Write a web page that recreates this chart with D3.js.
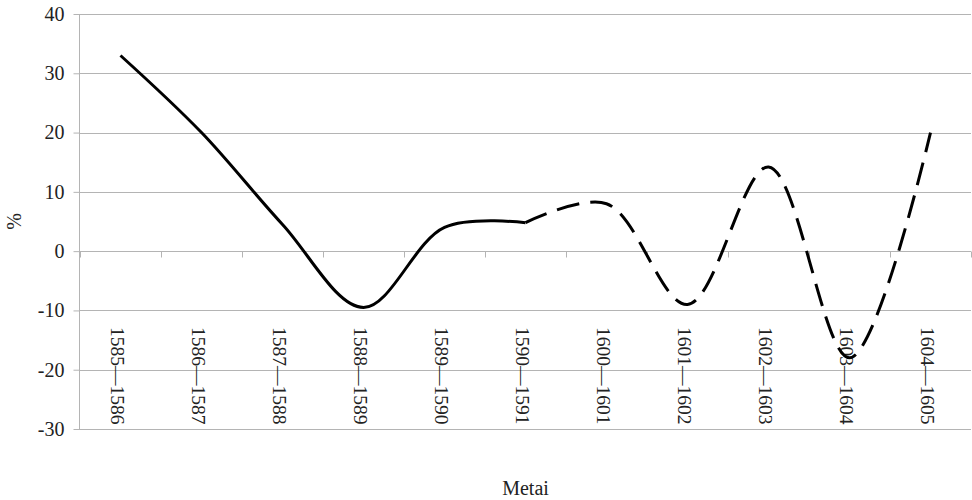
<!DOCTYPE html>
<html>
<head>
<meta charset="utf-8">
<script src="https://cdn.jsdelivr.net/npm/d3@7/dist/d3.min.js"></script>
<style>
  html, body { margin: 0; padding: 0; background: #fff; }
  svg { display: block; }
  text { font-family: "Liberation Serif", "Times New Roman", serif; fill: #222; }
</style>
</head>
<body>
<svg id="chart" width="972" height="500"></svg>
<script>
// ---- data ----
const categories = ["1585—1586","1586—1587","1587—1588","1588—1589","1589—1590","1590—1591",
                    "1600—1601","1601—1602","1602—1603","1603—1604","1604—1605"];
const values = [33, 20, 4.5, -9.5, 4, 4.8, 8, -9, 14.2, -18, 20];
const solidCategories = categories.slice(0, 6);   // solid series
const dashedCategories = categories.slice(5);     // dashed series
const yTicks = [-30, -20, -10, 0, 10, 20, 30, 40];
const yTitle = "%";
const xTitle = "Metai";

// ---- layout ----
const mLeft = 80, mRight = 971, mTop = 14, mBottom = 429;
const svg = d3.select("#chart");

const x = d3.scaleBand().domain(categories).range([mLeft, mRight]).paddingInner(0).paddingOuter(0);
const y = d3.scaleLinear().domain([-30, 40]).range([mBottom, mTop]);
const gridColor = "#b4b4b4";

// gridlines
svg.append("g").selectAll("line").data(yTicks).join("line")
  .attr("x1", mLeft - 1).attr("x2", mRight)
  .attr("y1", d => Math.round(y(d)) + 0.5).attr("y2", d => Math.round(y(d)) + 0.5)
  .attr("stroke", gridColor).attr("stroke-width", 1);

// y axis
const yAxis = svg.append("g").attr("transform", `translate(${mLeft - 0.5},0)`)
  .call(d3.axisLeft(y).tickValues(yTicks).tickSize(6).tickPadding(9).tickFormat(d => String(d)));
yAxis.select(".domain").attr("stroke", gridColor).attr("d", `M0,${mTop}V${mBottom}`);
yAxis.selectAll(".tick line").attr("stroke", gridColor);
yAxis.selectAll(".tick text").style("font-size", "20px").attr("fill", "#222")
  .style("font-family", '"Liberation Serif", serif');

// category axis at y=0
const xAxisG = svg.append("g").attr("transform", `translate(0,${Math.round(y(0)) + 0.5})`);
const boundaries = categories.map(c => x(c)).concat([mRight]);
xAxisG.selectAll("line.tk").data(boundaries).join("line").attr("class", "tk")
  .attr("x1", d => Math.round(d) + 0.5).attr("x2", d => Math.round(d) + 0.5)
  .attr("y1", 0).attr("y2", 6).attr("stroke", gridColor);

// category labels, rotated to read top-to-bottom
svg.append("g").selectAll("text").data(categories).join("text")
  .attr("transform", d => `translate(${x(d) + x.bandwidth() / 2 - 3},${327}) rotate(90)`)
  .attr("dy", "0.35em")
  .attr("text-anchor", "start")
  .style("font-size", "19.5px")
  .text(d => d);

// lines
const line = d3.line()
  .x(d => x(d.c) + x.bandwidth() / 2)
  .y(d => y(d.v))
  .curve(d3.curveCatmullRom.alpha(0.5));

const pts = categories.map((c, i) => ({ c, v: values[i] }));
const solidPts = pts.filter(p => solidCategories.includes(p.c));
const dashedPts = pts.filter(p => dashedCategories.includes(p.c));

svg.append("path").datum(solidPts).attr("d", line)
  .attr("fill", "none").attr("stroke", "#000").attr("stroke-width", 3)
  .attr("stroke-linejoin", "round");
svg.append("path").datum(dashedPts).attr("d", line)
  .attr("fill", "none").attr("stroke", "#000").attr("stroke-width", 3)
  .attr("stroke-dasharray", "23,11");

// titles
svg.append("text")
  .attr("transform", `translate(14,${(mTop + mBottom) / 2}) rotate(-90)`)
  .attr("text-anchor", "middle").attr("dy", "0.35em")
  .style("font-size", "20px").text(yTitle);
svg.append("text")
  .attr("x", (mLeft + mRight) / 2).attr("y", 495)
  .attr("text-anchor", "middle")
  .style("font-size", "20px").text(xTitle);
</script>
</body>
</html>
